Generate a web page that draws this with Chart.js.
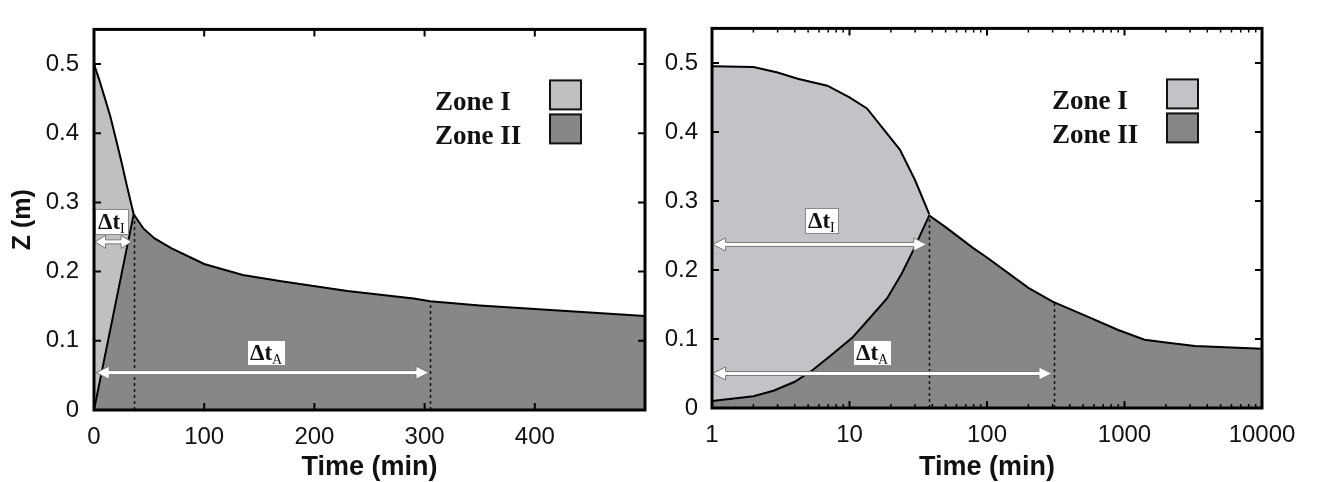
<!DOCTYPE html>
<html>
<head>
<meta charset="utf-8">
<script src="https://cdn.jsdelivr.net/npm/chart.js@4.4.1/dist/chart.umd.min.js"></script>
<style>
  html, body { margin: 0; padding: 0; background: #fff; }
  #wrap { position: relative; width: 1318px; height: 482px; }
  #left { position: absolute; left: 0; top: 0; }
  #right { position: absolute; left: 660px; top: 0; }
</style>
</head>
<body>
<div id="wrap">
  <canvas id="left" width="660" height="482"></canvas>
  <canvas id="right" width="658" height="482"></canvas>
</div>
<script>
// Left panel - linear time axis
const linZone1Time = [0, 5, 10, 15, 20, 25, 30, 36];
const linZone1Z = [0.500, 0.476, 0.450, 0.423, 0.391, 0.358, 0.323, 0.283];
const linZone2Time = [0, 36, 45, 55, 70, 100, 135, 170, 230, 290, 305, 350, 400, 450, 500];
const linZone2Z = [0, 0.283, 0.262, 0.248, 0.234, 0.211, 0.195, 0.186, 0.172, 0.161, 0.157, 0.151, 0.146, 0.141, 0.136];
const linXTicks = [0, 100, 200, 300, 400, 500];
const linMarkTime = [36, 305];
const linMarkZ = [0.283, 0.157];
const linArrowFrom = [1, 2];
const linArrowTo = [34, 304];
const linArrowZ = [0.243, 0.054];
const linLabelTime = [16, 156];
const linLabelZ = [0.272, 0.083];

// Right panel - log time axis
const logZone1Time = [1, 2, 3, 4.2, 6.9, 10, 13.4, 23.3, 30, 38];
const logZone1Z = [0.495, 0.494, 0.486, 0.477, 0.467, 0.450, 0.434, 0.374, 0.330, 0.281];
const logZone2Time = [1, 2, 2.8, 4, 5.4, 7.5, 10.6, 14, 18.8, 24, 29, 38, 50, 79, 100, 200, 300, 560, 900, 1400, 2000, 3250, 10000];
const logZone2Z = [0.010, 0.017, 0.025, 0.038, 0.055, 0.078, 0.103, 0.130, 0.159, 0.195, 0.228, 0.279, 0.262, 0.232, 0.218, 0.174, 0.154, 0.131, 0.113, 0.099, 0.095, 0.090, 0.086];
const logXTicks = [1, 10, 100, 1000, 10000];
const logMarkTime = [38, 305];
const logMarkZ = [0.279, 0.152];
const logArrowFrom = [1.01, 1.01];
const logArrowTo = [36.5, 297];
const logArrowZ = [0.237, 0.05];
const logLabelTime = [6.3, 14.6];
const logLabelZ = [0.271, 0.081];

const zTicks = [0, 0.1, 0.2, 0.3, 0.4, 0.5];
const labelSubs = ['I', 'A'];

const pts = (xs, ys) => xs.map((x, i) => ({ x: x, y: ys[i] }));

function drawArrow(ctx, x1, x2, y) {
  const h = Math.min(13, (x2 - x1) / 3.5), w = 6.5, s = 2;
  ctx.beginPath();
  ctx.moveTo(x1, y);
  ctx.lineTo(x1 + h, y - w);
  ctx.lineTo(x1 + h, y - s);
  ctx.lineTo(x2 - h, y - s);
  ctx.lineTo(x2 - h, y - w);
  ctx.lineTo(x2, y);
  ctx.lineTo(x2 - h, y + w);
  ctx.lineTo(x2 - h, y + s);
  ctx.lineTo(x1 + h, y + s);
  ctx.lineTo(x1 + h, y + w);
  ctx.closePath();
  ctx.fillStyle = '#fff';
  ctx.fill();
  ctx.strokeStyle = '#777';
  ctx.lineWidth = 1;
  ctx.stroke();
}

function drawDelta(ctx, cx, cy, sub) {
  const main = 'bold 23px "Liberation Serif"';
  const small = '14px "Liberation Serif"';
  ctx.font = main;
  const w1 = ctx.measureText('\u0394t').width;
  ctx.font = small;
  const w2 = ctx.measureText(sub).width;
  const bw = Math.round(w1 + w2 + 6), bh = 25;
  const bx = Math.round(cx - bw / 2), by = Math.round(cy - bh / 2);
  ctx.fillStyle = '#fff';
  ctx.fillRect(bx, by, bw, bh);
  ctx.strokeStyle = '#888';
  ctx.lineWidth = 1;
  ctx.strokeRect(bx + 0.5, by + 0.5, bw, bh);
  ctx.fillStyle = '#111';
  ctx.textAlign = 'left';
  ctx.textBaseline = 'alphabetic';
  ctx.font = main;
  ctx.fillText('\u0394t', bx + 3, by + bh - 5);
  ctx.font = small;
  ctx.fillText(sub, bx + 3 + w1, by + bh - 1);
}

// dotted markers, arrows and delta-t labels
const notes = {
  id: 'notes',
  afterDatasetsDraw(chart, args, o) {
    const { ctx, scales: { x, y } } = chart;
    ctx.save();
    ctx.strokeStyle = '#111';
    ctx.lineWidth = 1.5;
    ctx.setLineDash([3, 3]);
    o.markTime.forEach((t, i) => {
      const px = Math.round(x.getPixelForValue(t)) + 0.5;
      ctx.beginPath();
      ctx.moveTo(px, y.getPixelForValue(0));
      ctx.lineTo(px, y.getPixelForValue(o.markZ[i]));
      ctx.stroke();
    });
    ctx.setLineDash([]);
    o.arrowFrom.forEach((t, i) => {
      drawArrow(ctx, x.getPixelForValue(t), x.getPixelForValue(o.arrowTo[i]), y.getPixelForValue(o.arrowZ[i]));
    });
    o.labelTime.forEach((t, i) => {
      drawDelta(ctx, x.getPixelForValue(t), y.getPixelForValue(o.labelZ[i]), labelSubs[i]);
    });
    ctx.restore();
  }
};

const zoneLegend = {
  id: 'zoneLegend',
  afterDatasetsDraw(chart) {
    const { ctx, chartArea: a } = chart;
    ctx.save();
    chart.data.datasets.forEach((ds, i) => {
      const top = a.top + 51 + i * 34;
      ctx.fillStyle = ds.backgroundColor;
      ctx.fillRect(a.right - 95, top, 31, 29);
      ctx.strokeStyle = '#111';
      ctx.lineWidth = 2;
      ctx.strokeRect(a.right - 95, top, 31, 29);
      ctx.font = 'bold 27px "Liberation Serif"';
      ctx.fillStyle = '#111';
      ctx.textAlign = 'left';
      ctx.textBaseline = 'alphabetic';
      ctx.fillText(ds.label, a.right - 210, top + 30);
    });
    ctx.restore();
  }
};

// border box with inward ticks on all four sides
const frame = {
  id: 'frame',
  afterDatasetsDraw(chart, args, o) {
    const { ctx, chartArea: a, scales: { x, y } } = chart;
    ctx.save();
    ctx.strokeStyle = '#000';
    ctx.lineWidth = 2;
    ctx.beginPath();
    x.ticks.forEach(t => {
      const px = x.getPixelForValue(t.value);
      ctx.moveTo(px, a.bottom); ctx.lineTo(px, a.bottom - 7);
      ctx.moveTo(px, a.top); ctx.lineTo(px, a.top + 7);
    });
    y.ticks.forEach(t => {
      const py = y.getPixelForValue(t.value);
      ctx.moveTo(a.left, py); ctx.lineTo(a.left + 7, py);
      ctx.moveTo(a.right, py); ctx.lineTo(a.right - 7, py);
    });
    ctx.stroke();
    if (o.minor) {
      ctx.lineWidth = 1.5;
      ctx.beginPath();
      for (let d = 1; d < 10000; d *= 10) {
        for (let m = 2; m < 10; m++) {
          const px = x.getPixelForValue(d * m);
          ctx.moveTo(px, a.bottom); ctx.lineTo(px, a.bottom - 4);
          ctx.moveTo(px, a.top); ctx.lineTo(px, a.top + 4);
        }
      }
      ctx.stroke();
    }
    ctx.lineWidth = 3;
    ctx.strokeRect(a.left, a.top, a.right - a.left, a.bottom - a.top);
    ctx.restore();
  }
};

const tickFont = { family: 'Liberation Sans', size: 24 };
const titleFont = { family: 'Liberation Sans', size: 27, weight: 'bold', lineHeight: 1 };

function zoneSets(z1, z2, light) {
  return [
    { label: 'Zone I', data: z1, backgroundColor: light, borderColor: '#000', borderWidth: 2,
      fill: 'origin', pointRadius: 0, tension: 0, order: 2 },
    { label: 'Zone II', data: z2, backgroundColor: '#878787', borderColor: '#000', borderWidth: 2,
      fill: 'origin', pointRadius: 0, tension: 0, order: 1 }
  ];
}

function yAxis(width, pad, withTitle) {
  return {
    min: 0, max: 0.55,
    afterBuildTicks: s => { s.ticks = zTicks.map(v => ({ value: v })); },
    afterFit: s => { s.width = width; },
    grid: { display: false, drawTicks: false },
    border: { display: false },
    ticks: { font: tickFont, color: '#111', padding: pad,
      callback: v => v === 0 ? '0' : v.toFixed(1) },
    title: { display: withTitle, text: 'Z (m)', color: '#111',
      font: { family: 'Liberation Sans', size: 25, weight: 'bold', lineHeight: 1.2 },
      padding: { top: 8, bottom: 0 } }
  };
}

new Chart(document.getElementById('left'), {
  type: 'line',
  data: { datasets: zoneSets(pts(linZone1Time, linZone1Z), pts(linZone2Time, linZone2Z), '#c0c0c0') },
  options: {
    responsive: false,
    animation: false,
    layout: { padding: { top: 10, right: 15, left: 0, bottom: 0 } },
    scales: {
      x: {
        type: 'linear', min: 0, max: 500,
        afterBuildTicks: s => { s.ticks = linXTicks.map(v => ({ value: v })); },
        afterFit: s => { s.height = 72; },
        grid: { display: false, drawTicks: false },
        border: { display: false },
        ticks: { font: tickFont, color: '#111', padding: 13, maxRotation: 0, autoSkip: false,
          callback: v => v === 500 ? '' : String(v) },
        title: { display: true, text: 'Time (min)', color: '#111', font: titleFont, padding: { top: 0, bottom: 1 } }
      },
      y: yAxis(94, 15, true)
    },
    plugins: {
      legend: { display: false },
      tooltip: { enabled: false },
      notes: { markTime: linMarkTime, markZ: linMarkZ, arrowFrom: linArrowFrom, arrowTo: linArrowTo,
        arrowZ: linArrowZ, labelTime: linLabelTime, labelZ: linLabelZ },
      frame: { minor: false }
    }
  },
  plugins: [notes, zoneLegend, frame]
});

new Chart(document.getElementById('right'), {
  type: 'line',
  data: { datasets: zoneSets(pts(logZone1Time, logZone1Z), pts(logZone2Time, logZone2Z), '#c4c2c6') },
  options: {
    responsive: false,
    animation: false,
    layout: { padding: { top: 10, right: 56, left: 0, bottom: 0 } },
    scales: {
      x: {
        type: 'logarithmic', min: 1, max: 10000,
        afterBuildTicks: s => { s.ticks = logXTicks.map(v => ({ value: v })); },
        afterFit: s => { s.height = 74; },
        grid: { display: false, drawTicks: false },
        border: { display: false },
        ticks: { font: tickFont, color: '#111', padding: 13, maxRotation: 0, autoSkip: false,
          callback: v => String(v) },
        title: { display: true, text: 'Time (min)', color: '#111', font: titleFont, padding: { top: 0, bottom: 1 } }
      },
      y: yAxis(52, 14, false)
    },
    plugins: {
      legend: { display: false },
      tooltip: { enabled: false },
      notes: { markTime: logMarkTime, markZ: logMarkZ, arrowFrom: logArrowFrom, arrowTo: logArrowTo,
        arrowZ: logArrowZ, labelTime: logLabelTime, labelZ: logLabelZ },
      frame: { minor: true }
    }
  },
  plugins: [notes, zoneLegend, frame]
});
</script>
</body>
</html>
